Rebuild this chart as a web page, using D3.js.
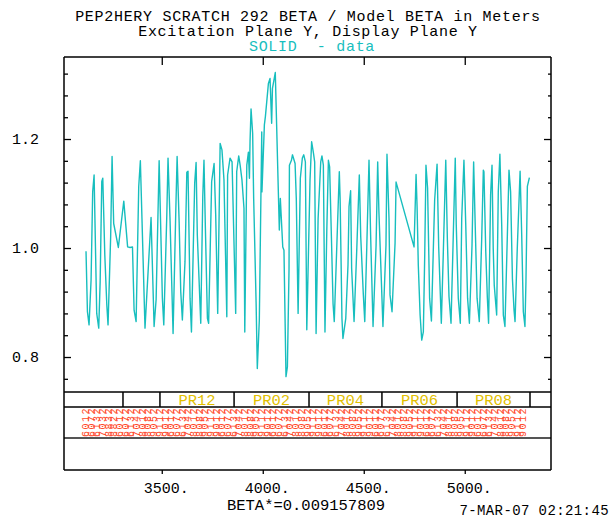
<!DOCTYPE html>
<html>
<head>
<meta charset="utf-8">
<script src="https://cdn.jsdelivr.net/npm/d3@7"></script>
<style>
  body { margin: 0; background: #fff; }
  svg { display: block; }
  text { font-family: "Liberation Mono", "DejaVu Sans Mono", monospace; }
</style>
</head>
<body>
<svg id="chart" width="616" height="520"></svg>
<script>
// beta / model beta vs s (m)
var betaData = [
  [3125,0.994],[3132,0.883],[3140,0.859],[3150,0.941],[3158,1.103],[3165,1.134],[3178,0.880],[3188,0.853],
  [3195,0.938],[3203,1.122],[3208,1.128],[3218,0.987],[3228,0.895],[3234,0.859],[3247,1.021],[3254,1.168],
  [3262,1.045],[3285,1.001],[3312,1.086],[3331,1.002],[3343,1.001],[3355,1.002],[3363,0.886],[3373,0.865],
  [3386,1.113],[3394,1.160],[3402,1.054],[3417,0.853],[3447,1.056],[3462,0.856],[3472,0.905],[3487,1.160],
  [3503,0.908],[3510,0.859],[3525,1.061],[3531,1.165],[3541,1.051],[3556,0.843],[3569,1.061],[3576,1.168],
  [3586,1.048],[3594,0.920],[3602,0.868],[3615,0.975],[3624,1.139],[3630,1.141],[3640,0.908],[3647,0.846],
  [3663,1.119],[3670,1.157],[3676,1.024],[3693,0.862],[3703,1.094],[3709,1.161],[3716,1.036],[3726,0.871],
  [3732,0.862],[3747,1.122],[3759,1.155],[3767,1.061],[3777,0.880],[3789,1.192],[3798,1.180],[3808,1.125],
  [3822,0.874],[3826,1.134],[3838,1.165],[3848,1.158],[3866,0.880],[3871,1.140],[3881,1.169],[3888,1.152],
  [3897,1.125],[3907,1.073],[3911,0.846],[3921,1.152],[3929,1.176],[3934,1.128],[3937,1.195],[3942,1.255],
  [3950,1.210],[3955,1.091],[3967,0.901],[3973,0.779],[3983,0.868],[3995,1.213],[3996,1.103],[4008,1.226],
  [4013,1.241],[4028,1.302],[4036,1.311],[4044,1.229],[4048,1.293],[4062,1.322],[4082,1.033],[4087,1.091],
  [4099,1.002],[4105,0.996],[4115,0.764],[4122,0.782],[4130,0.960],[4132,1.152],[4142,1.161],[4147,1.171],
  [4160,1.155],[4166,1.091],[4175,0.880],[4186,1.128],[4196,1.165],[4203,1.171],[4211,1.158],[4218,0.850],
  [4234,1.125],[4242,1.195],[4251,1.174],[4257,1.158],[4264,0.843],[4274,1.054],[4287,1.158],[4293,1.169],
  [4300,1.152],[4308,0.846],[4317,1.031],[4325,1.161],[4331,1.149],[4340,1.018],[4348,0.898],[4354,0.865],
  [4379,1.140],[4383,1.091],[4392,0.871],[4397,0.834],[4411,0.871],[4422,0.969],[4427,1.076],[4435,1.105],
  [4440,0.963],[4452,0.865],[4465,0.993],[4478,1.134],[4485,1.021],[4498,0.914],[4505,0.865],[4515,1.002],
  [4526,1.161],[4534,1.024],[4546,0.856],[4561,1.005],[4569,1.158],[4575,1.067],[4589,0.920],[4595,0.856],
  [4610,1.005],[4615,1.172],[4625,1.054],[4630,0.914],[4640,0.883],[4655,1.009],[4660,1.121],[4749,1.002],
  [4759,1.135],[4764,1.076],[4770,0.969],[4779,0.877],[4787,0.831],[4795,0.846],[4802,0.990],[4808,1.152],
  [4816,1.110],[4826,0.908],[4835,0.866],[4841,0.950],[4851,1.088],[4863,1.154],[4871,1.002],[4884,0.862],
  [4894,0.993],[4906,1.161],[4914,1.015],[4922,0.911],[4932,0.862],[4942,1.005],[4953,1.165],[4958,1.042],
  [4968,0.908],[4978,0.862],[4985,1.054],[4996,1.161],[5005,1.042],[5014,0.908],[5023,0.862],[5036,1.005],
  [5044,1.158],[5052,1.039],[5061,0.908],[5072,0.865],[5084,1.018],[5092,1.143],[5095,1.140],[5104,0.993],
  [5112,0.908],[5118,0.862],[5128,1.097],[5135,1.152],[5141,0.999],[5146,0.932],[5158,0.877],[5166,1.103],
  [5174,1.172],[5183,1.042],[5191,0.877],[5199,0.856],[5211,1.024],[5219,1.143],[5227,1.103],[5236,0.944],
  [5244,0.886],[5249,0.865],[5260,0.999],[5274,1.141],[5282,1.024],[5290,0.883],[5298,0.856],[5303,0.938],
  [5310,1.113],[5320,1.129]
];

var xTicks = [3500, 4000, 4500, 5000];
var xTickLabels = ["3500.", "4000.", "4500.", "5000."];
var yMajor = [0.8, 1.0, 1.2];
var yMajorLabels = ["0.8", "1.0", "1.2"];
var yMinor = [0.76, 0.84, 0.88, 0.92, 0.96, 1.04, 1.08, 1.12, 1.16, 1.24, 1.28, 1.32];

// sector edges (s) and the name of each sector between two edges
var sectorEdges = [3308, 3491, 3858, 4229, 4590, 4962, 5323];
var sectorNames = ["", "PR12", "PR02", "PR04", "PR06", "PR08"];

// monitor names under the plot
var bpmNames = [
  "6012","6072","6132","7032","8832","8822",
  "6012","6072","6132","7042","8012","8082","9052","9112","9012",
  "6012","6072","6132","7042","8012","8082","9052","9112","9012",
  "6012","6072","6132","7042","8012","8082","9052","9112","9012",
  "6012","6072","6132","7042","8012","8082","9052","9112","9012",
  "6012","6072","6132","7042","8012","8082","9052","9112","9012",
  "6012","6072","6132","7042","8012","8082","9052","9112","9012",
  "6012","6072","6132","7042","8012","8082","9052","9112","9012",
  "6012","6072","6132","7042","8012","8082","9052","9112","9012"
];
var bpmRange = [3125, 5290];

var titleLines = ["PEP2HERY SCRATCH 292 BETA / Model BETA in Meters",
                  "Excitation Plane Y, Display Plane Y"];
var legendText = "SOLID  - data";
var footText = "BETA*=0.009157809";
var stampText = "7-MAR-07 02:21:45";

var cyan = "#17bebe", red = "#ff4a2c", gold = "#e2c000";

var fr = {l:64, r:551, t:57, b:470},
    bandTop = 392, bandMid = 407, nameBot = 438;

var svg = d3.select("#chart");

var x = d3.scaleLinear().domain([3016, 5427]).range([fr.l, fr.r]);
var y = d3.scaleLinear().domain([0.7358, 1.3505]).range([bandTop, fr.t]);

// titles
svg.selectAll(".title")
  .data(titleLines)
  .enter()
  .append("text")
  .attr("class","title")
  .attr("x", 308)
  .attr("y", function(d,i){ return 21 + i*15; })
  .attr("text-anchor","middle")
  .attr("font-size","15px")
  .attr("letter-spacing","0.7px")
  .attr("fill","#000")
  .text(function(d){ return d; });

svg.append("text")
  .attr("x", 312)
  .attr("y", 51)
  .attr("text-anchor","middle")
  .attr("font-size","15px")
  .attr("letter-spacing","0.7px")
  .attr("fill", cyan)
  .style("white-space","pre")
  .text(legendText);

// ticks
function ticks(axis, tx, ty){
  var g = svg.append("g")
    .attr("transform","translate("+tx+","+ty+")")
    .call(axis);
  g.select(".domain").remove();
  g.selectAll("line").attr("stroke","#000").attr("stroke-width",1.3);
  g.selectAll("text").remove();
}
ticks(d3.axisRight(y).tickValues(yMajor).tickSize(7), fr.l, 0);
ticks(d3.axisRight(y).tickValues(yMinor).tickSize(4), fr.l, 0);
ticks(d3.axisLeft(y).tickValues(yMajor).tickSize(7), fr.r, 0);
ticks(d3.axisLeft(y).tickValues(yMinor).tickSize(3), fr.r, 0);
ticks(d3.axisBottom(x).tickValues(xTicks).tickSize(8), 0, fr.t);
ticks(d3.axisBottom(x).tickValues(xTicks).tickSize(4), 0, fr.b);

// tick labels
svg.selectAll(".ylab")
  .data(yMajor)
  .enter()
  .append("text")
  .attr("class","ylab")
  .attr("x", 39)
  .attr("y", function(d){ return y(d); })
  .attr("dy","0.33em")
  .attr("text-anchor","end")
  .attr("font-size","15px")
  .text(function(d,i){ return yMajorLabels[i]; });

svg.selectAll(".xlab")
  .data(xTicks)
  .enter()
  .append("text")
  .attr("class","xlab")
  .attr("x", function(d){ return x(d) - 18; })
  .attr("y", 493)
  .attr("font-size","15px")
  .text(function(d,i){ return xTickLabels[i]; });

svg.append("text")
  .attr("x", 306)
  .attr("y", 510)
  .attr("text-anchor","middle")
  .attr("font-size","15.5px")
  .text(footText);

svg.append("text")
  .attr("x", 609)
  .attr("y", 515)
  .attr("text-anchor","end")
  .attr("font-size","14px")
  .attr("letter-spacing","0.4px")
  .text(stampText);

// data line
var line = d3.line()
  .x(function(d){ return x(d[0]); })
  .y(function(d){ return y(d[1]); });

svg.append("path")
  .datum(betaData)
  .attr("d", line)
  .attr("fill","none")
  .attr("stroke", cyan)
  .attr("stroke-width", 1.4)
  .attr("stroke-linejoin","round");

// sector band
svg.selectAll(".sect")
  .data(sectorEdges)
  .enter()
  .append("line")
  .attr("class","sect")
  .attr("x1", function(d){ return x(d); })
  .attr("x2", function(d){ return x(d); })
  .attr("y1", bandTop)
  .attr("y2", bandMid)
  .attr("stroke","#000")
  .attr("stroke-width",1.5);

svg.selectAll(".sectname")
  .data(sectorNames)
  .enter()
  .append("text")
  .attr("class","sectname")
  .attr("x", function(d,i){ return (x(sectorEdges[i]) + x(sectorEdges[i+1]))/2; })
  .attr("y", 405)
  .attr("text-anchor","middle")
  .attr("font-size","15.5px")
  .attr("fill", gold)
  .text(function(d){ return d; });

// monitor names
var bx = d3.scalePoint()
  .domain(d3.range(bpmNames.length))
  .range([x(bpmRange[0]), x(bpmRange[1])]);

svg.selectAll(".bpm")
  .data(bpmNames)
  .enter()
  .append("text")
  .attr("class","bpm")
  .attr("transform", function(d,i){ return "translate(" + (bx(i) + 3) + "," + (nameBot - 1) + ") rotate(-90)"; })
  .attr("font-size","10px")
  .attr("letter-spacing","1.5px")
  .attr("fill", red)
  .text(function(d){ return d; });

// frame
var hLines = [fr.t, bandTop, bandMid, fr.b];
svg.selectAll(".hl")
  .data(hLines)
  .enter()
  .append("line")
  .attr("class","hl")
  .attr("x1", fr.l).attr("x2", fr.r)
  .attr("y1", function(d){ return d; })
  .attr("y2", function(d){ return d; })
  .attr("stroke","#000")
  .attr("stroke-width",1.5);

svg.append("line")
  .attr("x1", fr.l).attr("x2", fr.r)
  .attr("y1", nameBot).attr("y2", nameBot)
  .attr("stroke","#555")
  .attr("stroke-width",2);

svg.selectAll(".vl")
  .data([fr.l, fr.r])
  .enter()
  .append("line")
  .attr("class","vl")
  .attr("x1", function(d){ return d; })
  .attr("x2", function(d){ return d; })
  .attr("y1", fr.t).attr("y2", fr.b)
  .attr("stroke","#000")
  .attr("stroke-width",1.5);
</script>
</body>
</html>
